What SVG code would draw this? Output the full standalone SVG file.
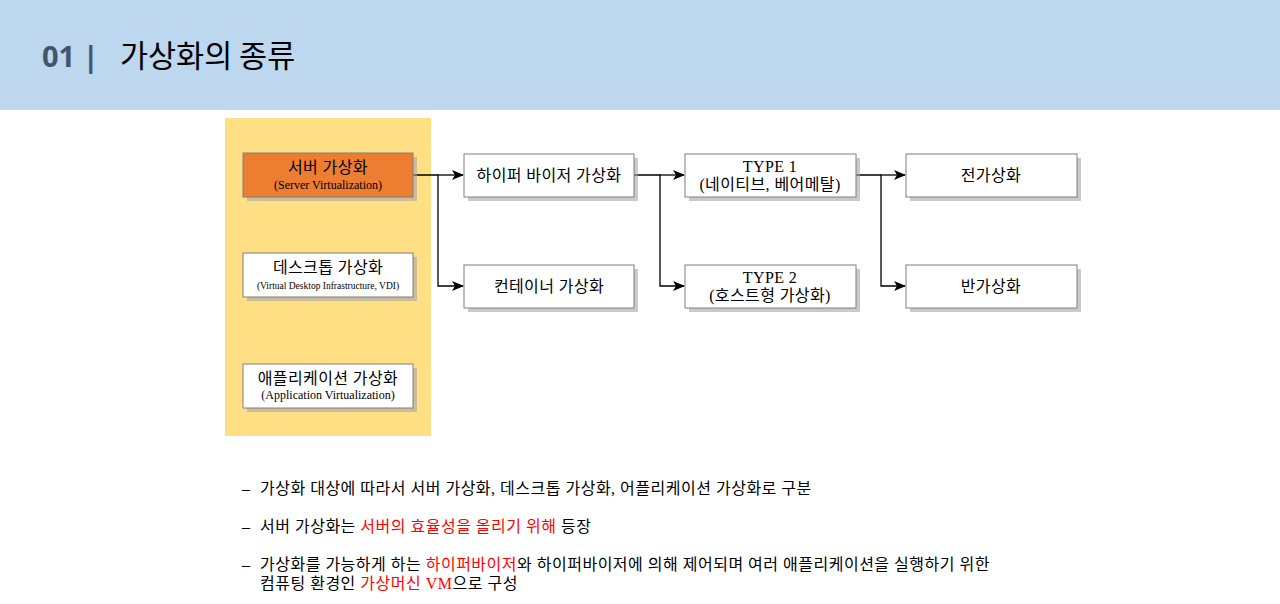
<svg xmlns="http://www.w3.org/2000/svg" width="1280" height="604" viewBox="0 0 1280 604">
<defs>
<style>
.box{fill:#fff;stroke:#7f7f7f;stroke-width:1}
.sh{fill:#a6a6a6;opacity:0.6}
.t{font-family:"Liberation Serif","Noto Sans CJK KR",serif;fill:#000;text-anchor:middle}
.k{font-size:16px;letter-spacing:0.4px}
.s{font-size:12px}
.conn{fill:none;stroke:#000;stroke-width:1.3}
.body{font-family:"Liberation Serif","Noto Sans CJK KR",serif;font-size:16px;letter-spacing:0.5px;fill:#000}
.red{fill:#ff0000}
</style>
<marker id="arr" viewBox="0 0 12 10" refX="11" refY="5" markerWidth="12" markerHeight="10" markerUnits="userSpaceOnUse" orient="auto">
<path d="M0,0 L12,5 L0,10 L3,5 Z" fill="#000"/>
</marker>
</defs>
<rect x="0" y="0" width="1280" height="604" fill="#fff"/>
<rect x="0" y="0" width="1280" height="110" fill="#BDD7EE"/>
<text x="42" y="67" font-family="'Noto Sans','Noto Sans CJK KR',sans-serif" font-size="29" font-weight="bold" fill="#44546A">01 |</text>
<text x="120" y="67" font-family="'Noto Sans CJK KR',sans-serif" font-size="30.5" fill="#000">가상화의 종류</text>
<rect x="225" y="118" width="206" height="318" fill="#FFDF84"/>

<g id="connectors">
<path class="conn" d="M413,175 H438 V286 H463" marker-end="url(#arr)"/>
<path class="conn" d="M438,175 H463" marker-end="url(#arr)"/>
<path class="conn" d="M634,175 H660 V286 H684" marker-end="url(#arr)"/>
<path class="conn" d="M660,175 H684" marker-end="url(#arr)"/>
<path class="conn" d="M856,175 H881 V286 H905" marker-end="url(#arr)"/>
<path class="conn" d="M881,175 H905" marker-end="url(#arr)"/>
</g>

<g id="server">
<rect class="sh" x="247" y="157" width="170" height="44"/>
<rect x="243" y="153" width="170" height="44" fill="#ED7D31" stroke="#7f7f7f"/>
<text class="t k" x="328" y="173">서버 가상화</text>
<text class="t s" x="328" y="189">(Server Virtualization)</text>
</g>
<g id="desktop">
<rect class="sh" x="247" y="257" width="170" height="44"/>
<rect class="box" x="243" y="253" width="170" height="44"/>
<text class="t k" x="328" y="273">데스크톱 가상화</text>
<text class="t" x="328" y="289" font-size="9.5">(Virtual Desktop Infrastructure, VDI)</text>
</g>
<g id="application">
<rect class="sh" x="247" y="368" width="170" height="44"/>
<rect class="box" x="243" y="364" width="170" height="44"/>
<text class="t k" x="328" y="384">애플리케이션 가상화</text>
<text class="t s" x="328" y="399">(Application Virtualization)</text>
</g>
<g id="hypervisor">
<rect class="sh" x="468" y="158" width="170" height="43"/>
<rect class="box" x="464" y="154" width="170" height="43"/>
<text class="t k" x="549" y="181">하이퍼 바이저 가상화</text>
</g>
<g id="container">
<rect class="sh" x="468" y="269" width="170" height="43"/>
<rect class="box" x="464" y="265" width="170" height="43"/>
<text class="t k" x="549" y="292">컨테이너 가상화</text>
</g>
<g id="type1">
<rect class="sh" x="689" y="158" width="171" height="43"/>
<rect class="box" x="685" y="154" width="171" height="43"/>
<text class="t k" x="770" y="172">TYPE 1</text>
<text class="t k" x="770" y="190">(네이티브, 베어메탈)</text>
</g>
<g id="type2">
<rect class="sh" x="689" y="269" width="171" height="43"/>
<rect class="box" x="685" y="265" width="171" height="43"/>
<text class="t k" x="770" y="283">TYPE 2</text>
<text class="t k" x="770" y="301">(호스트형 가상화)</text>
</g>
<g id="full">
<rect class="sh" x="910" y="158" width="171" height="43"/>
<rect class="box" x="906" y="154" width="171" height="43"/>
<text class="t k" x="991" y="181">전가상화</text>
</g>
<g id="para">
<rect class="sh" x="910" y="269" width="171" height="43"/>
<rect class="box" x="906" y="265" width="171" height="43"/>
<text class="t k" x="991" y="292">반가상화</text>
</g>

<g id="notes">
<text class="body" x="242" y="494">–</text>
<text class="body" x="260" y="494">가상화 대상에 따라서 서버 가상화, 데스크톱 가상화, 어플리케이션 가상화로 구분</text>
<text class="body" x="242" y="532">–</text>
<text class="body" x="260" y="532">서버 가상화는 <tspan class="red">서버의 효율성을 올리기 위해</tspan> 등장</text>
<text class="body" x="242" y="570">–</text>
<text class="body" x="260" y="570">가상화를 가능하게 하는 <tspan class="red">하이퍼바이저</tspan>와 하이퍼바이저에 의해 제어되며 여러 애플리케이션을 실행하기 위한</text>
<text class="body" x="260" y="589">컴퓨팅 환경인 <tspan class="red">가상머신 VM</tspan>으로 구성</text>
</g>
</svg>
